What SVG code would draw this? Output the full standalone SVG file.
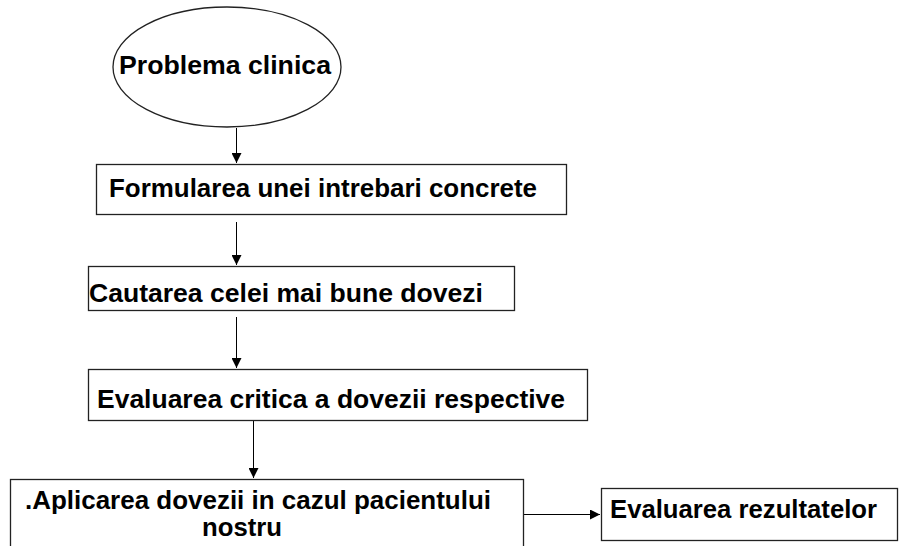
<svg xmlns="http://www.w3.org/2000/svg" width="899" height="546" viewBox="0 0 899 546">
<style>
.shape{fill:#fff;stroke:#222;stroke-width:1.3}
.lbl{font-family:"Liberation Sans",Arial,sans-serif;font-weight:bold;font-size:25px;fill:#000}
.conn{stroke:#000;stroke-width:1;fill:none;marker-end:url(#arr)}
</style>
<defs>
<marker id="arr" viewBox="0 0 10 10" refX="10" refY="5" markerWidth="10" markerHeight="10" markerUnits="userSpaceOnUse" orient="auto">
<path d="M0,0 L10,5 L0,10 Z" fill="#000"/>
</marker>
</defs>
<rect width="899" height="546" fill="#fff"/>
<g id="connectors">
<line class="conn" x1="236.5" y1="128" x2="236.5" y2="163"/>
<line class="conn" x1="236.5" y1="222" x2="236.5" y2="265"/>
<line class="conn" x1="236.5" y1="317" x2="236.5" y2="368"/>
<line class="conn" x1="253.5" y1="420" x2="253.5" y2="478"/>
<line class="conn" x1="523" y1="514.5" x2="600" y2="514.5"/>
</g>
<g id="n1">
<ellipse class="shape" cx="227" cy="67" rx="114" ry="60"/>
<text class="lbl" x="119" y="74" textLength="212" lengthAdjust="spacingAndGlyphs">Problema clinica</text>
</g>
<g id="n2">
<rect class="shape" x="96.5" y="164.5" width="470" height="50"/>
<text class="lbl" x="109" y="197" textLength="428" lengthAdjust="spacingAndGlyphs">Formularea unei intrebari concrete</text>
</g>
<g id="n3">
<rect class="shape" x="88.5" y="266.5" width="426" height="44"/>
<text class="lbl" x="89" y="302" textLength="394" lengthAdjust="spacingAndGlyphs">Cautarea celei mai bune dovezi</text>
</g>
<g id="n4">
<rect class="shape" x="88.5" y="369.5" width="499" height="51"/>
<text class="lbl" x="97" y="408" textLength="468" lengthAdjust="spacingAndGlyphs">Evaluarea critica a dovezii respective</text>
</g>
<g id="n5">
<rect class="shape" x="10.5" y="479.5" width="513" height="80"/>
<text class="lbl" x="25" y="509" textLength="466" lengthAdjust="spacingAndGlyphs">.Aplicarea dovezii in cazul pacientului</text>
<text class="lbl" x="242" y="536" text-anchor="middle" textLength="80" lengthAdjust="spacingAndGlyphs">nostru</text>
</g>
<g id="n6">
<rect class="shape" x="601.5" y="488.5" width="296" height="52"/>
<text class="lbl" x="610" y="518" textLength="267" lengthAdjust="spacingAndGlyphs">Evaluarea rezultatelor</text>
</g>
</svg>
